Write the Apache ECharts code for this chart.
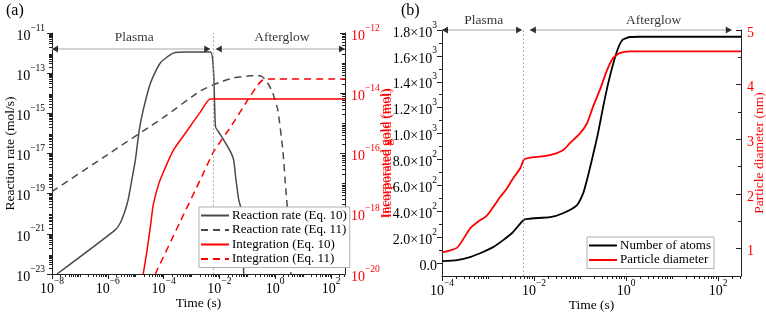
<!DOCTYPE html>
<html><head><meta charset="utf-8">
<script src="https://cdn.jsdelivr.net/npm/echarts@6/dist/echarts.min.js"></script>
<style>html,body{margin:0;padding:0;background:#fff}#c{width:766px;height:313px}</style>
</head><body><div id="c"></div>
<script>
// ================= DATA (time and panel (a) values are log10) =================
// Panel (a): major tick positions (log10)
const aTimeTicks = [-8, -6, -4, -2, 0, 2];
const aRateTicks = [-23, -21, -19, -17, -15, -13, -11];
const aGoldTicks = [-20, -18, -16, -14, -12];
// Panel (b) tick positions
const bTimeTicks = [-4, -2, 0, 2];
const bAtomTicks = [0, 200, 400, 600, 800, 1000, 1200, 1400, 1600, 1800];
const bAtomMinor = [100, 300, 500, 700, 900, 1100, 1300, 1500, 1700];
const bDiamTicks = [1, 2, 3, 4, 5];
const bDiamMinor = [1.5, 2.5, 3.5, 4.5];

// Reaction rate (Eq. 10): log10 t, log10 rate (mol/s)
const rate10T = [-7.82, -5.73, -5.55, -5.37, -5.27, -5.12, -5.01, -4.87, -4.73, -4.47, -4.12, -3.65, -3.14, -2.32, -2.14, -2.03, -1.85, -1.6, -1.49, -1.42, -1.31, -1.24, -1.17, -1.13];
const rate10Y = [-23, -20.8, -20.45, -19.8, -19.3, -18.16, -17.3, -15.8, -14.83, -13.49, -12.49, -12.0, -11.95, -11.95, -15.68, -15.93, -16.32, -16.92, -17.32, -18.16, -19.3, -19.66, -21.3, -23];
// Reaction rate (Eq. 11)
const rate11T = [-8, -6, -4, -2.68, -1.96, -1.49, -0.9, -0.63, -0.45, -0.27, -0.09, 0.09, 0.27, 0.38, 0.48, 0.56];
const rate11Y = [-18.9, -17.05, -15.2, -13.88, -13.44, -13.24, -13.13, -13.12, -13.19, -13.49, -13.98, -14.83, -16.82, -18.8, -20.5, -23];
// Integration (Eq. 10): log10 t, log10 gold (mol)
const int10T = [-4.73, -4.6, -4.47, -4.37, -4.19, -4.0, -3.65, -3.14, -2.68, -2.32, 2.5];
const int10Y = [-20, -19.25, -18.4, -17.7, -17.05, -16.6, -15.89, -15.22, -14.62, -14.19, -14.19];
// Integration (Eq. 11)
const int11T = [-4.3, -3.4, -2.68, -2.21, -1.6, -0.99, -0.63, -0.45, -0.27, 2.5];
const int11Y = [-20, -18.25, -16.86, -15.95, -15.12, -14.23, -13.73, -13.56, -13.53, -13.53];

// Panel (b): log10 t, number of atoms
const atomsT = [-4, -3.67, -3.39, -3.11, -2.89, -2.67, -2.46, -2.22, -2.1, -2.02, -1.65, -1.37, -1.07, -0.93, -0.85, -0.78, -0.72, -0.61, -0.5, -0.39, -0.28, -0.17, -0.07, 0.09, 0.3, 2.5];
const atoms = [15, 23, 46, 85, 123, 177, 238, 335, 342, 346, 354, 385, 446, 540, 640, 740, 830, 1000, 1200, 1384, 1538, 1661, 1725, 1746, 1748, 1748];
// Particle diameter (nm)
const diamT = [-4, -3.67, -3.39, -3.24, -3.02, -2.74, -2.59, -2.46, -2.3, -2.22, -2.1, -1.65, -1.37, -1.22, -1.0, -0.85, -0.72, -0.57, -0.41, -0.28, -0.13, 0.09, 0.3, 2.5];
const diam = [0.93, 1.02, 1.37, 1.48, 1.61, 1.94, 2.10, 2.28, 2.47, 2.63, 2.66, 2.71, 2.80, 2.93, 3.11, 3.29, 3.59, 3.9, 4.27, 4.49, 4.58, 4.61, 4.61, 4.61];

// Phase annotation (log10 t)
const splitT = -2.23;
const aArrowY = -11.8;
const aPlasma = [-8, -2.33], aAfter = [-2.13, 2.5], aLabelX = [-5.05, 0.24];
const bArrowY = 1800;
const bPlasma = [-4, -2.26], bAfter = [-2.09, 2.3], bLabelX = [-3.09, 0.6];

// ================= RENDER =================
const FONT = 'Liberation Serif';
const RED = '#ff0000';
const zip = (a, b) => a.map((v, i) => [v, b[i]]);
function logMinor(lo, hi) {
  const out = [];
  for (let n = Math.floor(lo); n <= Math.ceil(hi); n++) {
    for (let k = 1; k <= 9; k++) {
      if (k === 1 && n % 2 === 0) continue;
      const v = n + Math.log10(k);
      if (v > lo + 1e-9 && v < hi - 1e-9) out.push(v);
    }
  }
  return out;
}
const expFmt = v => { const n = Math.round(v); return '{b|10}{s|' + (n < 0 ? '\u2212' + (-n) : n) + '}'; };
const rich = c => ({
  b: {fontSize: 14, fontFamily: FONT, color: c, lineHeight: 20, verticalAlign: 'bottom'},
  s: {fontSize: 9.5, fontFamily: FONT, color: c, lineHeight: 10, verticalAlign: 'top'}
});
const lineC = {show: true, onZero: false, lineStyle: {color: '#222', width: 1}};
const nameStyle = c => ({fontFamily: FONT, fontSize: 13.5, color: c});

function mainAxis(o) {
  return Object.assign({
    type: 'value', splitLine: {show: false}, axisLine: lineC, nameMoveOverlap: false,
    axisTick: {show: true, inside: !!o.inside, length: 5, customValues: o.ticks, lineStyle: {color: '#222'}},
    axisLabel: {customValues: o.ticks, formatter: o.fmt, rich: rich(o.color || '#000'), margin: o.margin, color: o.color || '#000', fontFamily: FONT, fontSize: 14}
  }, o.extra);
}
function minorAxis(o) {
  return Object.assign({
    type: 'value', splitLine: {show: false}, axisLine: {show: false, onZero: false},
    axisTick: {show: true, inside: !!o.inside, length: 3, customValues: o.ticks, lineStyle: {color: '#222'}},
    axisLabel: {show: false}
  }, o.extra);
}

const xAxis = [
  mainAxis({ticks: aTimeTicks, fmt: expFmt, margin: 2, extra: {gridIndex: 0, min: -8, max: 2.5, position: 'bottom',
    name: 'Time (s)', nameLocation: 'middle', nameGap: 22, nameTextStyle: nameStyle('#000')}}),
  minorAxis({ticks: logMinor(-8, 2.5), extra: {gridIndex: 0, min: -8, max: 2.5, position: 'bottom'}}),
  mainAxis({ticks: bTimeTicks, fmt: expFmt, margin: 2, extra: {gridIndex: 1, min: -4, max: 2.5, position: 'bottom',
    name: 'Time (s)', nameLocation: 'middle', nameGap: 22, nameTextStyle: nameStyle('#000')}}),
  minorAxis({ticks: logMinor(-4, 2.5), extra: {gridIndex: 1, min: -4, max: 2.5, position: 'bottom'}})
];
const atomFmt = v => v === 0 ? '{b|0.0}' : (v < 1000 ? '{b|' + (v / 100).toFixed(1) + '×10}{s|2}' : '{b|' + (v / 1000).toFixed(1) + '×10}{s|3}');
const yAxis = [
  mainAxis({ticks: aRateTicks, fmt: expFmt, margin: 7, extra: {gridIndex: 0, min: -23, max: -11, position: 'left',
    name: 'Reaction rate (mol/s)', nameLocation: 'middle', nameGap: 35, nameRotate: 90, nameTextStyle: nameStyle('#000')}}),
  minorAxis({ticks: logMinor(-23, -11), extra: {gridIndex: 0, min: -23, max: -11, position: 'left'}}),
  mainAxis({ticks: aGoldTicks, fmt: expFmt, margin: 6, color: RED, inside: true, extra: {gridIndex: 0, min: -20, max: -12, position: 'right',
    name: 'Incorporated gold (mol)', nameLocation: 'middle', nameGap: 33, nameRotate: 90, nameTextStyle: nameStyle(RED)}}),
  minorAxis({ticks: logMinor(-20, -12), inside: true, extra: {gridIndex: 0, min: -20, max: -12, position: 'right'}}),
  mainAxis({ticks: bAtomTicks, fmt: atomFmt, margin: 5, extra: {gridIndex: 1, min: -100, max: 1800, position: 'left',
    name: 'Incorporated gold (mol)', nameLocation: 'middle', nameGap: 48, nameRotate: 90, nameTextStyle: nameStyle(RED)}}),
  minorAxis({ticks: bAtomMinor, extra: {gridIndex: 1, min: -100, max: 1800, position: 'left'}}),
  mainAxis({ticks: bDiamTicks, fmt: v => '{b|' + v + '}', margin: 6, color: RED, inside: true, extra: {gridIndex: 1, min: 0.5, max: 5, position: 'right',
    name: 'Particle diameter (nm)', nameLocation: 'middle', nameGap: 11, nameRotate: 90, nameTextStyle: nameStyle(RED)}}),
  minorAxis({ticks: bDiamMinor, inside: true, extra: {gridIndex: 1, min: 0.5, max: 5, position: 'right'}})
];

const lineSeries = (name, x, y, xi, yi, color, dashed, w) => ({
  name, type: 'line', xAxisIndex: xi, yAxisIndex: yi, data: zip(x, y),
  symbol: 'none', showSymbol: false, smooth: 0.2, z: 3,
  lineStyle: {color, width: w || 1.5, type: dashed ? [7, 5] : 'solid'}, itemStyle: {color}
});

function annot(xi, yi, plasma, after, y, labelX, labelDist) {
  const gray = {color: '#c4c4c4', width: 1.5, type: 'solid'};
  return [
    {type: 'line', xAxisIndex: xi, yAxisIndex: yi, data: [], silent: true, z: 1,
      markLine: {silent: true, symbol: ['none', 'none'], label: {show: false}, animation: false,
        data: [
          {xAxis: splitT, lineStyle: {color: '#999', type: [1.5, 2.5], width: 1}},
          [{coord: [plasma[0], y], lineStyle: gray}, {coord: [plasma[1], y]}],
          [{coord: [after[0], y], lineStyle: gray}, {coord: [after[1], y]}]
        ]}},
    {type: 'scatter', xAxisIndex: xi, yAxisIndex: yi, silent: true, clip: false, z: 5,
      symbol: 'triangle', symbolSize: [7, 6], itemStyle: {color: '#000'},
      data: [
        {value: [plasma[0], y], symbolRotate: 90, symbolOffset: [3, 0]},
        {value: [plasma[1], y], symbolRotate: -90, symbolOffset: [-3, 0]},
        {value: [after[0], y], symbolRotate: 90, symbolOffset: [3, 0]},
        {value: [after[1], y], symbolRotate: -90, symbolOffset: [-3, 0]}
      ]},
    {type: 'scatter', xAxisIndex: xi, yAxisIndex: yi, silent: true, clip: false, z: 5, symbolSize: 0,
      label: {show: true, position: 'top', distance: labelDist, formatter: '{b}', fontFamily: FONT, fontSize: 13.5, color: '#000'},
      data: [{name: 'Plasma', value: [labelX[0], y]}, {name: 'Afterglow', value: [labelX[1], y]}]}
  ];
}

const series = [
  lineSeries('Reaction rate (Eq. 10)', rate10T, rate10Y, 0, 0, '#4a4a4a', false),
  lineSeries('Reaction rate (Eq. 11)', rate11T, rate11Y, 0, 0, '#4a4a4a', true),
  lineSeries('Integration (Eq. 10)', int10T, int10Y, 0, 2, RED, false),
  lineSeries('Integration (Eq. 11)', int11T, int11Y, 0, 2, RED, true),
  lineSeries('Number of atoms', atomsT, atoms, 2, 4, '#000', false, 1.8),
  lineSeries('Particle diameter', diamT, diam, 2, 6, RED, false, 1.8),
  ...annot(0, 0, aPlasma, aAfter, aArrowY, aLabelX, 4.5),
  ...annot(2, 4, bPlasma, bAfter, bArrowY, bLabelX, 3)
];

const legendBase = {orient: 'vertical', itemWidth: 28, itemHeight: 14, itemGap: 1.5, padding: [2, 3, 2, 1],
  borderColor: '#b0b0b0', borderWidth: 1, borderRadius: 0, backgroundColor: '#fff', z: 10, selectedMode: false,
  itemStyle: {opacity: 0, borderWidth: 0}, lineStyle: {opacity: 1},
  textStyle: {fontFamily: FONT, fontSize: 13, color: '#000', padding: [0, 0, 0, -2]}};

const option = {
  animation: false,
  backgroundColor: '#fff',
  title: [
    {text: '(a)', left: 1, top: -2, textStyle: {fontFamily: FONT, fontSize: 16, fontWeight: 'normal', color: '#000'}},
    {text: '(b)', left: 396, top: -2, textStyle: {fontFamily: FONT, fontSize: 16, fontWeight: 'normal', color: '#000'}}
  ],
  grid: [
    {left: 52, right: 421, top: 33, bottom: 39, containLabel: false, outerBoundsMode: 'none'},
    {left: 442, right: 25, top: 30, bottom: 37, containLabel: false, outerBoundsMode: 'none'}
  ],
  legend: [
    Object.assign({}, legendBase, {data: ['Reaction rate (Eq. 10)', 'Reaction rate (Eq. 11)', 'Integration (Eq. 10)', 'Integration (Eq. 11)'], left: 199, top: 207}),
    Object.assign({}, legendBase, {data: ['Number of atoms', 'Particle diameter'], left: 587, top: 237})
  ],
  xAxis, yAxis, series
};
const chart = echarts.init(document.getElementById('c'), null, {renderer: 'canvas'});
chart.setOption(option);
</script></body></html>
